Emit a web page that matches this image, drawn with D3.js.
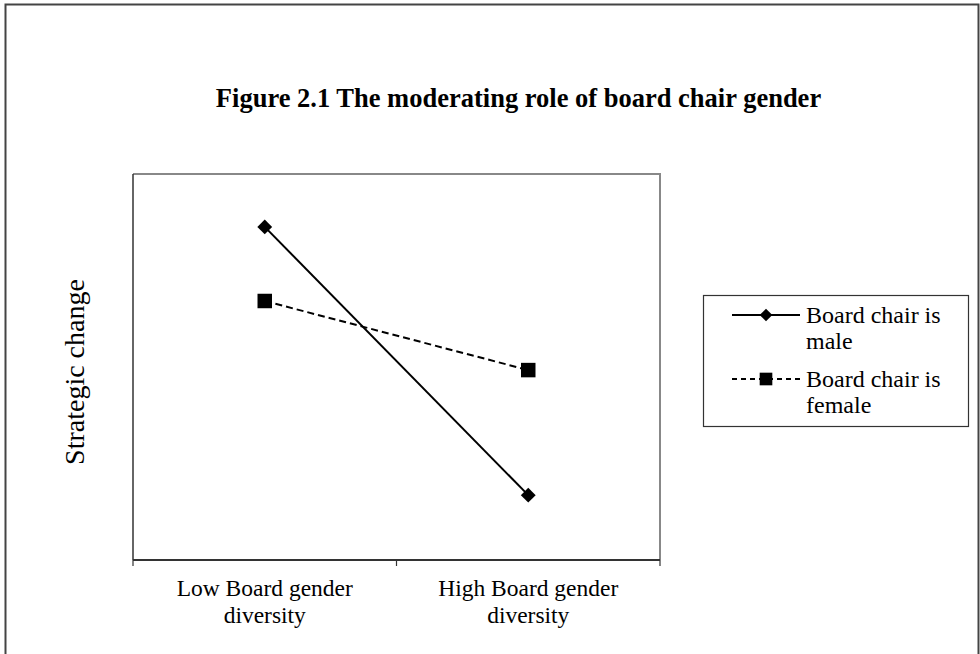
<!DOCTYPE html>
<html><head><meta charset="utf-8">
<script src="https://cdn.jsdelivr.net/npm/d3@7"></script>
<style>body{margin:0;background:#fff}svg{display:block}</style>
</head><body>
<svg id="c" width="980" height="654"></svg>
<script>
const categories = ["Low Board gender\ndiversity", "High Board gender\ndiversity"];
const seriesNames = ["Board chair is\nmale", "Board chair is\nfemale"];
const maleValues = [0.863, 0.168];
const femaleValues = [0.671, 0.492];
const title = "Figure 2.1 The moderating role of board chair gender";
const yLabel = "Strategic change";

const svg = d3.select("#c");
const font = "'Liberation Serif', 'Times New Roman', serif";
// outer border
svg.append("rect").attr("x", 5.5).attr("y", 4.5).attr("width", 973).attr("height", 700)
  .attr("fill", "none").attr("stroke", "#444").attr("stroke-width", 2);

const m = {left: 133, top: 174, right: 660, bottom: 560};
const x = d3.scalePoint().domain(categories).range([m.left, m.right]).padding(0.5);
const y = d3.scaleLinear().domain([0, 1]).range([m.bottom, m.top]);

// plot frame (top/right gray)
svg.append("path").attr("d", `M${m.left},${m.top}H${m.right}V${m.bottom}`)
  .attr("fill", "none").attr("stroke", "#888").attr("stroke-width", 2);
svg.append("line").attr("x1", m.left).attr("x2", m.left).attr("y1", m.top).attr("y2", m.bottom)
  .attr("stroke", "#333").attr("stroke-width", 1.5);

// x axis with ticks at band boundaries
const xAxisG = svg.append("g").attr("transform", `translate(0,${m.bottom})`);
xAxisG.append("line").attr("x1", m.left).attr("x2", m.right).attr("stroke", "#333").attr("stroke-width", 2);
const bounds = [m.left, (m.left + m.right) / 2, m.right];
xAxisG.selectAll("line.t").data(bounds).join("line").attr("class", "t")
  .attr("x1", d => d).attr("x2", d => d).attr("y1", 0).attr("y2", 6).attr("stroke", "#333").attr("stroke-width", 1.2);
const xl = xAxisG.selectAll("text").data(categories).join("text")
  .attr("x", d => x(d)).attr("y", 36).attr("text-anchor", "middle")
  .attr("font-family", font).attr("font-size", 23.5).attr("fill", "#000");
xl.each(function(d) {
  const parts = d.split("\n");
  d3.select(this).selectAll("tspan").data(parts).join("tspan")
    .attr("x", x(d)).attr("dy", (p, i) => i ? 27 : 0).text(p => p);
});

// y label
svg.append("text").attr("transform", `translate(84,372) rotate(-90)`)
  .attr("text-anchor", "middle").attr("font-family", font).attr("font-size", 28).text(yLabel);

// title
svg.append("text").attr("x", 518.5).attr("y", 107).attr("text-anchor", "middle")
  .attr("font-family", font).attr("font-size", 26.5).attr("font-weight", "bold").text(title);

const series = [
  {name: seriesNames[0], values: maleValues, dash: null, sym: d3.symbolSquare, rot: 45, size: 110, lsize: 80},
  {name: seriesNames[1], values: femaleValues, dash: "7,4", sym: d3.symbolSquare, rot: 0, size: 210, lsize: 160}
];
const line = d3.line().x((d, i) => x(categories[i])).y(d => y(d));
series.forEach(s => {
  svg.append("path").datum(s.values).attr("d", line).attr("fill", "none")
    .attr("stroke", "#000").attr("stroke-width", 2).attr("stroke-dasharray", s.dash);
  svg.selectAll(null).data(s.values).join("path")
    .attr("transform", (d, i) => `translate(${x(categories[i])},${y(d)}) rotate(${s.rot})`)
    .attr("d", d3.symbol().type(s.sym).size(s.size)).attr("fill", "#000");
});

// legend
const lg = svg.append("g");
lg.append("rect").attr("x", 703.5).attr("y", 295.5).attr("width", 265).attr("height", 131)
  .attr("fill", "#fff").attr("stroke", "#333").attr("stroke-width", 1.2);
const legRows = [315, 379];
series.forEach((s, i) => {
  const yy = legRows[i];
  lg.append("line").attr("x1", 732).attr("x2", 800).attr("y1", yy).attr("y2", yy)
    .attr("stroke", "#000").attr("stroke-width", 2).attr("stroke-dasharray", s.dash ? "5,4" : null);
  lg.append("path").attr("transform", `translate(766,${yy}) rotate(${s.rot})`)
    .attr("d", d3.symbol().type(s.sym).size(s.lsize)).attr("fill", "#000");
  const t = lg.append("text").attr("x", 806).attr("y", yy + 8)
    .attr("font-family", font).attr("font-size", 24);
  s.name.split("\n").forEach((p, j) => t.append("tspan").attr("x", 806).attr("dy", j ? 26 : 0).text(p));
});
</script>
</body></html>
